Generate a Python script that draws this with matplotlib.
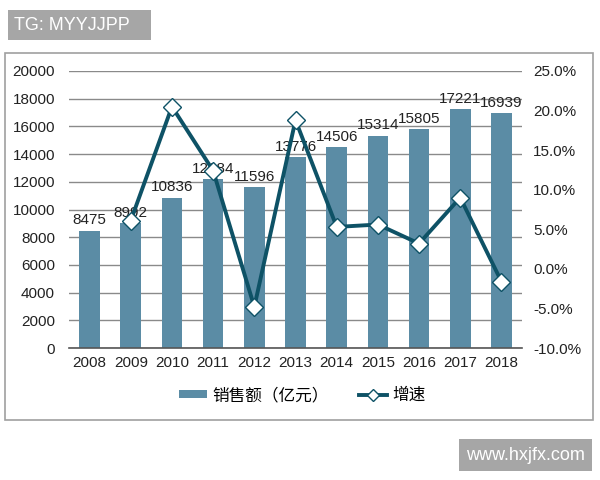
import matplotlib
matplotlib.use("Agg")
import matplotlib.pyplot as plt
from matplotlib.patches import Rectangle
from matplotlib.ticker import FuncFormatter

plt.rcParams['font.family'] = ['Liberation Sans', 'Noto Sans CJK SC', 'DejaVu Sans']

years = ['2008', '2009', '2010', '2011', '2012', '2013', '2014', '2015', '2016', '2017', '2018']
sales = [8475, 8992, 10836, 12184, 11596, 13776, 14506, 15314, 15805, 17221, 16939]
growth = [None, 6.1, 20.5, 12.4, -4.8, 18.8, 5.3, 5.6, 3.2, 9.0, -1.6]

bar_color = '#5b8ca5'
line_color = '#0e5266'

fig = plt.figure(figsize=(6, 4.8), dpi=100)

# outer frame around the chart
fig.patches.append(Rectangle((5/600, 1 - 420/480), 588/600, 367/480, transform=fig.transFigure,
                             fill=False, edgecolor='#a0a0a0', linewidth=1.2))

ax = fig.add_axes([69/600, 1 - 348/480, 453/600, 277/480])
x = list(range(len(years)))
bars = ax.bar(x, sales, width=0.5, color=bar_color, zorder=2, label='销售额（亿元）')
ax.set_ylim(0, 20000)
ax.set_xlim(-0.5, len(years) - 0.5)
ax.set_yticks(range(0, 20001, 2000))
ax.set_xticks(x)
ax.set_xticklabels(years)
ax.yaxis.grid(True, color='#8a8a8a', linewidth=1, zorder=0)
ax.set_axisbelow(True)
for s in ['top', 'left', 'right']:
    ax.spines[s].set_visible(False)
ax.spines['bottom'].set_color('#555555')
ax.spines['bottom'].set_linewidth(1.2)
ax.tick_params(length=0, labelsize=11, colors='#222222')
ax.tick_params(axis='y', pad=10)
ax.tick_params(axis='x', pad=6)

for xi, v in zip(x, sales):
    ax.text(xi, v + 250, str(v), ha='center', va='bottom', fontsize=11, color='#222222', zorder=5)

ax2 = ax.twinx()
gx = [xi for xi, g in zip(x, growth) if g is not None]
gy = [g for g in growth if g is not None]
ax2.plot(gx, gy, color=line_color, linewidth=2.8, marker='D', markersize=9,
         markerfacecolor='white', markeredgecolor=line_color, markeredgewidth=1, zorder=4, label='增速')
ax2.set_ylim(-10, 25)
ax2.set_yticks(range(-10, 26, 5))
ax2.yaxis.set_major_formatter(FuncFormatter(lambda v, p: '%.1f%%' % v))
for s in ['top', 'left', 'right', 'bottom']:
    ax2.spines[s].set_visible(False)
ax2.tick_params(length=0, labelsize=11, colors='#222222', pad=8)

h1, l1 = ax.get_legend_handles_labels()
h2, l2 = ax2.get_legend_handles_labels()
fig.legend(h1 + h2, l1 + l2, loc='center', bbox_to_anchor=(302/600, 1 - 395/480), ncol=2,
           frameon=False, fontsize=12, handlelength=1.7, handleheight=0.45, handletextpad=0.3,
           columnspacing=1.8, markerscale=0.7)

# watermarks
fig.text(14/600, 1 - 25/480, 'TG: MYYJJPP   ', fontsize=13, color='white', va='center', ha='left',
         bbox=dict(boxstyle='square,pad=0.35', facecolor='#a6a6a6', edgecolor='none'))
fig.text(585/600, 1 - 455/480, 'www.hxjfx.com', fontsize=13, color='white', va='center', ha='right',
         bbox=dict(boxstyle='square,pad=0.4', facecolor='#a6a6a6', edgecolor='none'))

fig.savefig('out.png', dpi=100)
